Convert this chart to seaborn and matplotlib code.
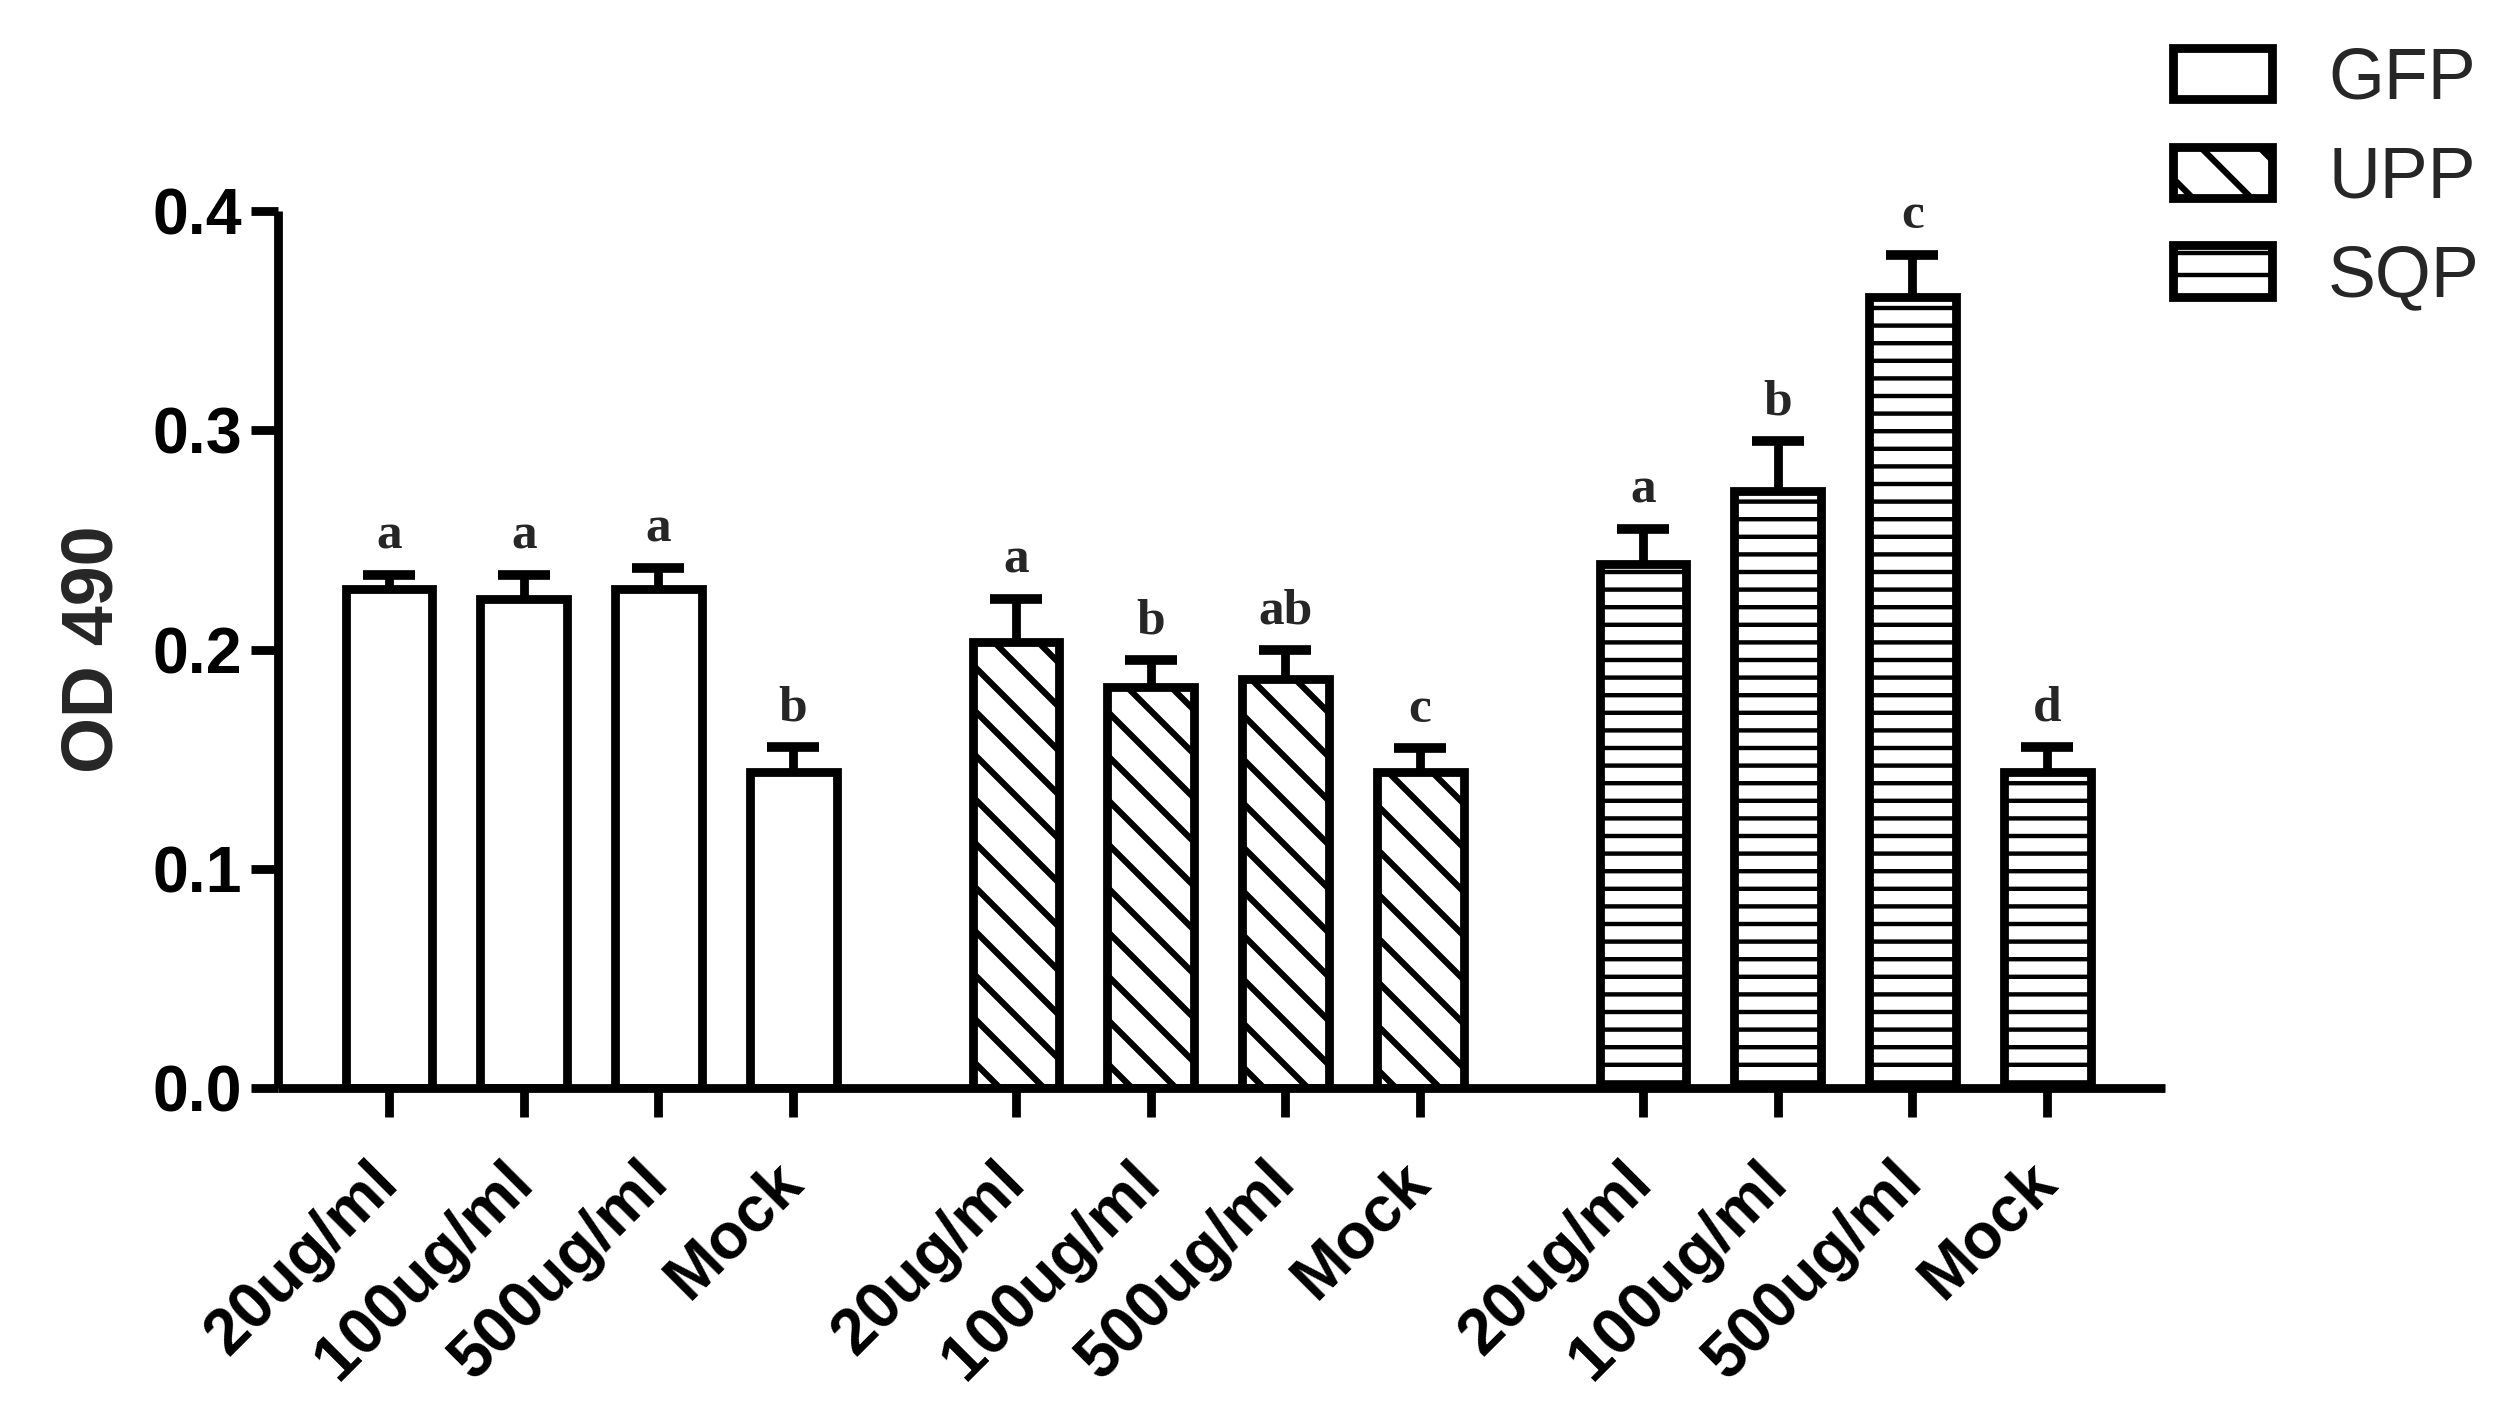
import numpy as np
import pandas as pd
import matplotlib
matplotlib.use("Agg")
import matplotlib.pyplot as plt
import matplotlib.transforms as mtransforms
import seaborn as sns
from matplotlib.patches import Patch

# ---------------- data ----------------
groups = ["GFP", "UPP", "SQP"]
doses = ["20ug/ml", "100ug/ml", "500ug/ml", "Mock"]

gfp_vals = [0.2276, 0.2230, 0.2276, 0.1440]
gfp_err = [0.0064, 0.0110, 0.0098, 0.0115]
upp_vals = [0.2034, 0.1829, 0.1867, 0.1441]
upp_err = [0.0197, 0.0123, 0.0131, 0.0109]
sqp_vals = [0.2391, 0.2725, 0.3608, 0.1440]
sqp_err = [0.0159, 0.0227, 0.0192, 0.0117]

gfp_letters = ["a", "a", "a", "b"]
upp_letters = ["a", "b", "ab", "c"]
sqp_letters = ["a", "b", "c", "d"]

# ---------------- style ----------------
DPI = 528
sns.set_style("ticks")
plt.rcParams["font.family"] = ["Liberation Sans", "DejaVu Sans"]
plt.rcParams["hatch.linewidth"] = 0.65
plt.rcParams["hatch.color"] = "black"

BS = chr(92)  # backslash
GROUP_GAP = 0.655
rows = []
for gi, (g, vals, errs, lets) in enumerate(zip(
        groups, [gfp_vals, upp_vals, sqp_vals], [gfp_err, upp_err, sqp_err],
        [gfp_letters, upp_letters, sqp_letters])):
    for di, d in enumerate(doses):
        rows.append(dict(group=g, dose=d, pos=gi * (len(doses) + GROUP_GAP) + di,
                         value=vals[di], err=errs[di], letter=lets[di]))
df = pd.DataFrame(rows)

fig = plt.figure(figsize=(2510 / DPI, 1402 / DPI), dpi=DPI)
ax = fig.add_axes([278 / 2510, (1402 - 1088) / 1402, (2165 - 278) / 2510, (1088 - 211) / 1402])

LW = 1.2
sns.barplot(data=df, x="pos", y="value", hue="group", native_scale=True,
            palette={g: "white" for g in groups}, saturation=1,
            edgecolor="black", linewidth=LW, width=0.645,
            errorbar=None, legend=False, ax=ax, zorder=2)

hatch_map = {"GFP": "", "UPP": BS * 4, "SQP": "-----"}
hatch_lw = {"GFP": 0.65, "UPP": 0.85, "SQP": 0.6}
pos_to_group = dict(zip(df["pos"].round(3), df["group"]))
for p in ax.patches:
    cx = round(p.get_x() + p.get_width() / 2, 3)
    g = pos_to_group.get(cx)
    if g is None:
        continue
    p.set_hatch(hatch_map[g])
    if hasattr(p, "set_hatch_linewidth"):
        p.set_hatch_linewidth(hatch_lw[g])
    p.set_edgecolor("black")
    p.set_linewidth(LW)
    p.set_joinstyle("miter")

# error bars (upper only)
eb = ax.errorbar(df["pos"], df["value"], yerr=[np.zeros(len(df)), df["err"]],
                 fmt="none", ecolor="black", elinewidth=LW, capsize=3.6,
                 capthick=LW * 1.1, zorder=3)
for cl in eb[1]:
    if np.allclose(cl.get_ydata(), df["value"].values):
        cl.set_visible(False)

# letters
for _, r in df.iterrows():
    ax.annotate(r["letter"], xy=(r["pos"], r["value"] + r["err"]), xytext=(0, 3.6),
                textcoords="offset points", ha="center", va="baseline",
                fontfamily="Liberation Serif", fontweight="bold", fontsize=7.0,
                annotation_clip=False)

# axes
ax.set_xlim(-0.824, 13.185)
ax.set_ylim(0, 0.4)
ax.set_yticks([0.0, 0.1, 0.2, 0.3, 0.4])
ax.set_yticklabels([f"{v:.1f}" for v in [0.0, 0.1, 0.2, 0.3, 0.4]],
                   fontweight="bold", fontsize=8.8)
ax.set_xticks(df["pos"])
ax.set_xticklabels(df["dose"], rotation=45, ha="right", va="center",
                   rotation_mode="anchor", fontweight="bold", fontsize=8.8)
shift = mtransforms.ScaledTranslation(1.8 / 72, 0, fig.dpi_scale_trans)
for lab in ax.get_xticklabels():
    lab.set_transform(lab.get_transform() + shift)
ax.set_xlabel("")
ax.set_ylabel("OD 490", fontweight="bold", fontsize=9.8, labelpad=3.4)
sns.despine(ax=ax)
for s in ["left", "bottom"]:
    ax.spines[s].set_linewidth(LW)
    ax.spines[s].set_color("black")
    ax.spines[s].set_capstyle("butt")
ax.tick_params(axis="y", length=3.7, width=LW, pad=1.2, colors="black")
ax.tick_params(axis="x", length=3.9, width=LW, pad=7.6, colors="black")

# legend
handles = [Patch(facecolor="white", edgecolor="black", linewidth=LW, hatch=h, joinstyle="round")
           for h in ["", BS * 3, "----"]]
leg = fig.legend(handles, groups, loc="upper left", bbox_to_anchor=(0.8657, 0.9665),
                 frameon=False, borderpad=0, borderaxespad=0, handlelength=1.38,
                 handleheight=0.72, handletextpad=0.78, labelspacing=0.44,
                 prop={"family": "Liberation Sans", "size": 9.8})
for h, g in zip(leg.get_patches(), groups):
    if hasattr(h, "set_hatch_linewidth"):
        h.set_hatch_linewidth(hatch_lw[g])

fig.savefig("out.png", dpi=DPI, facecolor="white")
